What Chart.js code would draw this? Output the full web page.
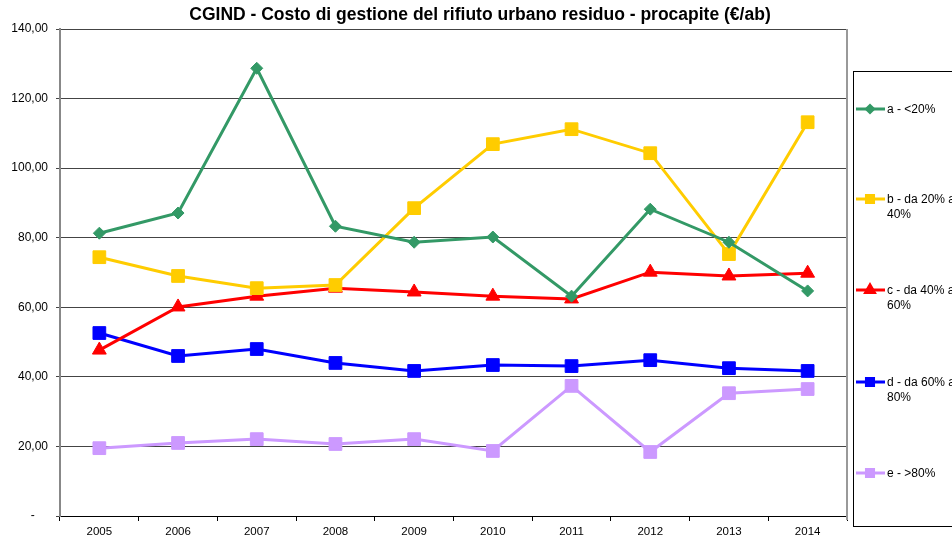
<!DOCTYPE html>
<html>
<head>
<meta charset="utf-8">
<script src="https://cdn.jsdelivr.net/npm/chart.js@4.4.1/dist/chart.umd.min.js"></script>
<style>
  html, body { margin: 0; padding: 0; background: #fff; }
  #wrap { width: 952px; height: 542px; }
</style>
</head>
<body>
<div id="wrap"><canvas id="cgind" width="952" height="542"></canvas></div>
<script>
const anni = ['2005', '2006', '2007', '2008', '2009', '2010', '2011', '2012', '2013', '2014'];
const serieA = [81.3, 87.1, 128.7, 83.3, 78.7, 80.2, 63.2, 88.2, 78.7, 64.7];
const serieB = [74.4, 69.0, 65.5, 66.4, 88.5, 106.9, 111.2, 104.3, 75.3, 113.2];
const serieC = [47.7, 60.1, 63.2, 65.5, 64.4, 63.2, 62.4, 70.1, 69.0, 69.8];
const serieD = [52.6, 46.0, 48.0, 44.0, 41.7, 43.4, 43.1, 44.8, 42.5, 41.7];
const serieE = [19.5, 21.0, 22.1, 20.7, 22.1, 18.7, 37.4, 18.4, 35.3, 36.5];
const etichette = ['a - <20%', 'b - da 20% a|40%', 'c - da 40% a|60%', 'd - da 60% a|80%', 'e - >80%'];
const titolo = 'CGIND - Costo di gestione del rifiuto urbano residuo - procapite (€/ab)';

const FONT = 'Arial, "Liberation Sans", sans-serif';

function serie(label, data, color, style, radius) {
    return {
        label: label,
        data: data,
        borderColor: color,
        backgroundColor: color,
        borderWidth: 3,
        pointStyle: style,
        pointRadius: radius,
        pointHoverRadius: radius,
        pointBorderWidth: 1,
        tension: 0
    };
}

// titolo, bordo destro dell'area e legenda a destra
const extras = {
    id: 'extras',
    afterDraw(chart) {
        const c = chart.ctx;
        const a = chart.chartArea;
        c.save();
        c.fillStyle = '#000';
        c.font = 'bold 17.5px ' + FONT;
        c.textAlign = 'center';
        c.textBaseline = 'middle';
        c.fillText(titolo, 480, 15);

        c.strokeStyle = '#999';
        c.lineWidth = 2;
        c.beginPath();
        c.moveTo(a.right, a.top);
        c.lineTo(a.right, a.bottom + 4);
        c.stroke();

        c.strokeStyle = '#000';
        c.lineWidth = 1;
        c.strokeRect(853.5, 71.5, 120, 455);

        const ys = [109, 199, 290, 382, 473];
        c.font = '12px ' + FONT;
        c.textAlign = 'left';
        chart.data.datasets.forEach((ds, i) => {
            const y = ys[i];
            c.strokeStyle = ds.borderColor;
            c.lineWidth = 3;
            c.beginPath();
            c.moveTo(856, y);
            c.lineTo(885, y);
            c.stroke();
            Chart.helpers.drawPoint(c, {
                pointStyle: ds.pointStyle,
                radius: ds.pointStyle === 'rectRot' ? 3.5 : 5,
                borderWidth: 1
            }, 870, y);
            c.fillStyle = ds.borderColor;
            c.fill();
            c.fillStyle = '#000';
            ds.label.split('|').forEach((t, k) => c.fillText(t, 887, y + 1 + k * 15));
        });
        c.restore();
    }
};

Chart.register(extras);

new Chart(document.getElementById('cgind').getContext('2d'), {
    type: 'line',
    data: {
        labels: anni,
        datasets: [
            serie(etichette[0], serieA, '#339966', 'rectRot', 6),
            serie(etichette[1], serieB, '#FFCC00', 'rect', 9),
            serie(etichette[2], serieC, '#FF0000', 'triangle', 8),
            serie(etichette[3], serieD, '#0000FF', 'rect', 9),
            serie(etichette[4], serieE, '#CC99FF', 'rect', 9)
        ]
    },
    options: {
        responsive: false,
        animation: false,
        layout: { padding: { top: 29, right: 105, left: 0, bottom: 0 } },
        plugins: {
            legend: { display: false },
            title: { display: false },
            tooltip: { enabled: false }
        },
        scales: {
            x: {
                offset: true,
                afterFit: s => { s.height = 26; },
                grid: {
                    offset: true,
                    drawOnChartArea: false,
                    color: '#000',
                    tickLength: 5
                },
                border: { color: '#000', width: 1 },
                ticks: {
                    color: '#000',
                    font: { family: FONT, size: 11.5 },
                    padding: 4,
                    maxRotation: 0
                }
            },
            y: {
                min: 0,
                max: 140,
                afterFit: s => { s.width = 60; },
                grid: {
                    color: '#444',
                    lineWidth: 1,
                    tickLength: 4
                },
                border: { color: '#888', width: 2 },
                ticks: {
                    stepSize: 20,
                    color: '#000',
                    font: { family: FONT, size: 12 },
                    padding: 8,
                    callback: v => v === 0 ? '-    ' : v.toFixed(2).replace('.', ',')
                }
            }
        }
    }
});
</script>
</body>
</html>
